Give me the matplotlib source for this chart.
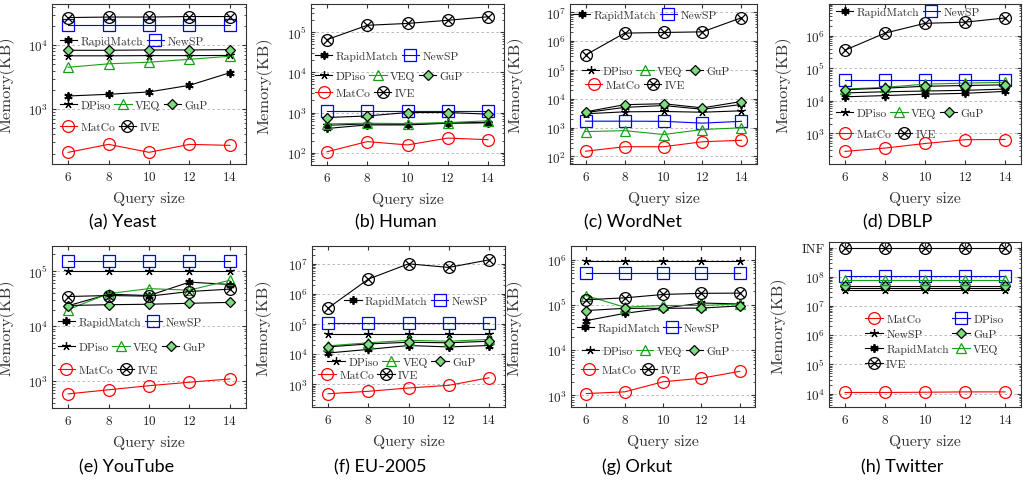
import numpy as np
import matplotlib
matplotlib.use('Agg')
import matplotlib.pyplot as plt
from matplotlib.path import Path
from matplotlib.legend import Legend
from matplotlib.ticker import LogLocator, NullFormatter, FixedLocator, FixedFormatter

plt.rcParams['font.family'] = 'cmr10'
plt.rcParams['mathtext.fontset'] = 'cm'
plt.rcParams['axes.formatter.use_mathtext'] = True

# ---------------------------------------------------------------- data
QUERY_SIZES = [6, 8, 10, 12, 14]
INF = 1e9  # value drawn at the "INF" tick of the Twitter panel

yeast = {
    'RapidMatch': [1600, 1700, 1850, 2350, 3700],
    'NewSP': [21000, 21000, 21000, 21000, 21000],
    'DPiso': [6800, 6800, 6850, 6850, 6900],
    'VEQ': [4500, 5100, 5400, 6000, 6700],
    'GuP': [8300, 8300, 8400, 8400, 8500],
    'MatCo': [210, 280, 210, 280, 270],
    'IVE': [27000, 27500, 27500, 28000, 28000],
}
human = {
    'RapidMatch': [400, 490, 490, 540, 560],
    'NewSP': [1100, 1100, 1100, 1100, 1100],
    'DPiso': [480, 520, 510, 550, 560],
    'VEQ': [520, 540, 530, 560, 620],
    'GuP': [750, 820, 1000, 1000, 910],
    'MatCo': [105, 188, 155, 230, 210],
    'IVE': [66000, 150000, 167000, 200000, 245000],
}
wordnet = {
    'RapidMatch': [3300, 5000, 5800, 4300, 6300],
    'NewSP': [1660, 1660, 1640, 1420, 1640],
    'DPiso': [3000, 3500, 3600, 3400, 3800],
    'VEQ': [720, 780, 570, 850, 980],
    'GuP': [3500, 6200, 6700, 4800, 8000],
    'MatCo': [150, 215, 215, 320, 360],
    'IVE': [3.3e5, 1.9e6, 2.0e6, 2.1e6, 6.5e6],
}
dblp = {
    'RapidMatch': [13300, 14500, 16000, 17000, 19500],
    'NewSP': [43000, 43000, 43000, 43000, 43000],
    'DPiso': [17500, 19000, 20000, 21000, 23000],
    'VEQ': [23000, 26000, 32500, 35000, 37000],
    'GuP': [22000, 24500, 28000, 29500, 31000],
    'MatCo': [280, 355, 490, 640, 650],
    'IVE': [3.6e5, 1.2e6, 2.4e6, 2.6e6, 3.5e6],
}
youtube = {
    'RapidMatch': [23500, 38000, 36000, 63000, 57000],
    'NewSP': [155000, 155000, 155000, 155000, 155000],
    'DPiso': [100000, 100000, 100000, 100000, 100000],
    'VEQ': [20000, 39000, 48000, 45000, 68000],
    'GuP': [23700, 24500, 25000, 26000, 27000],
    'MatCo': [590, 700, 830, 960, 1100],
    'IVE': [34500, 36000, 35000, 42500, 47000],
}
eu2005 = {
    'RapidMatch': [11000, 14500, 19500, 17500, 19500],
    'NewSP': [108000, 108000, 108000, 108000, 108000],
    'DPiso': [47000, 47000, 47000, 47000, 47000],
    'VEQ': [19000, 24000, 29000, 27000, 31000],
    'GuP': [17500, 22000, 25000, 24000, 27000],
    'MatCo': [490, 590, 760, 930, 1660],
    'IVE': [3.4e5, 3.1e6, 1.0e7, 7.6e6, 1.35e7],
}
orkut = {
    'RapidMatch': [45000, 65000, 84000, 110000, 105000],
    'NewSP': [510000, 510000, 510000, 510000, 510000],
    'DPiso': [950000, 950000, 950000, 950000, 950000],
    'VEQ': [160000, 89000, 97000, 97000, 105000],
    'GuP': [75000, 84000, 84000, 85000, 95000],
    'MatCo': [1100, 1200, 2000, 2400, 3400],
    'IVE': [130000, 143000, 170000, 180000, 182000],
}
twitter = {
    'MatCo': [11000, 11000, 11200, 11500, 11500],
    'NewSP': [3.6e7, 3.6e7, 3.6e7, 3.6e7, 3.6e7],
    'RapidMatch': [4.0e7, 4.0e7, 4.0e7, 4.0e7, 4.0e7],
    'IVE': [INF, INF, INF, INF, INF],
    'DPiso': [1.05e8, 1.05e8, 1.05e8, 1.05e8, 1.05e8],
    'GuP': [4.8e7, 4.8e7, 4.8e7, 4.8e7, 4.8e7],
    'VEQ': [8.0e7, 8.0e7, 8.0e7, 8.0e7, 8.0e7],
}

# ---------------------------------------------------------------- styles
c = 0.7071
otimes = Path.make_compound_path(
    Path.unit_circle(),
    Path([(-c, -c), (c, c), (-c, c), (c, -c)],
         [Path.MOVETO, Path.LINETO, Path.MOVETO, Path.LINETO]))

GREEN = '#17a017'
STYLES = {
    'RapidMatch': dict(color='black', marker=(6, 2, 0), ms=6, mew=1.3, mec='black'),
    'NewSP': dict(color='#0000ff', marker='s', ms=8, mfc='none', mec='#0000ff'),
    'DPiso': dict(color='black', marker=(5, 2, 0), ms=6, mec='black'),
    'VEQ': dict(color=GREEN, marker='^', ms=6.5, mfc='none', mec=GREEN),
    'GuP': dict(color='black', marker='D', ms=5, mfc='#7ddc7d', mec='black'),
    'MatCo': dict(color='#ff0000', marker='o', ms=8.5, mfc='none', mec='#ff0000'),
    'IVE': dict(color='black', marker=otimes, ms=8.5, mfc='none', mec='black'),
}
# Twitter panel swaps the DPiso / NewSP marks
TWITTER_STYLES = dict(STYLES, DPiso=STYLES['NewSP'], NewSP=STYLES['DPiso'])

ROWS = [['RapidMatch', 'NewSP'], ['DPiso', 'VEQ', 'GuP'], ['MatCo', 'IVE']]

W, H = 1023, 481
fig = plt.figure(figsize=(W / 100, H / 100), dpi=100)

# (data, caption, axes px (l, t, r, b), ylim, legend row anchors, ylabel offset px, caption centre px)
panels = [
    (yeast, '(a) Yeast', (52, 5, 246, 165), (138, 4.4e4),
     [(0.04, 0.77), (0.04, 0.37), (0.04, 0.23)], 38, (123, 222)),
    (human, '(b) Human', (311, 5, 504, 166), (49, 5.1e5),
     [(0.02, 0.675), (0.02, 0.555), (0.02, 0.45)], 39, (396, 222)),
    (wordnet, '(c) WordNet', (570, 5, 757, 165), (54, 1.95e7),
     [(0.016, 0.933), (0.064, 0.583), (0.08, 0.494)], 47, (633, 222)),
    (dblp, '(d) DBLP', (829, 5, 1021, 165), (115, 9.4e6),
     [(0.036, 0.952), (0.036, 0.32), (0.036, 0.19)], 38, (898, 222)),
    (youtube, '(e) YouTube', (52, 247, 246, 409), (327, 2.85e5),
     [(0.03, 0.53), (0.03, 0.375), (0.03, 0.235)], 38, (127, 467)),
    (eu2005, '(f) EU-2005', (312, 247, 505, 408), (178, 3.9e7),
     [(0.167, 0.66), (0.08, 0.28), (0.033, 0.196)], 41, (380, 467)),
    (orkut, '(g) Orkut', (571, 247, 755, 408), (555, 2e6),
     [(0.03, 0.49), (0.058, 0.35), (0.053, 0.23)], 49, (637, 467)),
    (twitter, '(h) Twitter', (829, 243, 1021, 408), (3500, 1.55e9),
     None, 43, (902, 467)),
]

for data, caption, (l, t, r, b), ylim, legpos, ylab_off, (cx, cy) in panels:
    ax = fig.add_axes([l / W, 1 - b / H, (r - l) / W, (b - t) / H])
    styles = TWITTER_STYLES if legpos is None else STYLES
    lines = {}
    for name, vals in data.items():
        st = dict(styles[name])
        mew = st.pop('mew', 0.9)
        ln, = ax.plot(QUERY_SIZES, vals, lw=0.8, mew=mew, **st)
        lines[name] = ln

    ax.set_yscale('log')
    ax.set_ylim(*ylim)
    ax.set_xlim(5.2, 14.8)
    ax.set_xticks(QUERY_SIZES)
    ax.yaxis.set_minor_locator(LogLocator(base=10, subs=np.arange(2, 10)))
    ax.yaxis.set_minor_formatter(NullFormatter())
    if legpos is None:
        ticks = [1e4, 1e5, 1e6, 1e7, 1e8, INF]
        ax.yaxis.set_major_locator(FixedLocator(ticks))
        ax.yaxis.set_major_formatter(FixedFormatter(
            [r'$10^{4}$', r'$10^{5}$', r'$10^{6}$', r'$10^{7}$', r'$10^{8}$', 'INF']))

    ax.grid(axis='y', which='major', ls=(0, (3, 3)), color='#b0b0b0', lw=0.6)
    ax.set_axisbelow(True)
    ax.tick_params(which='both', direction='in', top=True, right=True,
                   labelsize=9.5, color='#333333', labelcolor='#222222')
    ax.tick_params(axis='x', which='major', pad=4, length=3)
    ax.tick_params(axis='y', which='major', pad=3, length=3)
    ax.tick_params(axis='y', which='minor', length=1.8)
    for sp in ax.spines.values():
        sp.set_linewidth(0.8)
        sp.set_color('#333333')

    ax.set_xlabel('Query size', fontsize=11.3, color='#333333')
    ax.set_ylabel('Memory(KB)', fontsize=11.8, color='#333333')
    ax.xaxis.set_label_coords(0.5, -27 / (b - t))
    ax.yaxis.set_label_coords(-ylab_off / (r - l), 0.5)

    leg_kw = dict(frameon=False, borderpad=0, handlelength=1.5, handletextpad=0.3,
                  columnspacing=0.3, fontsize=8.3, borderaxespad=0)
    if legpos is None:
        names = list(data.keys())
        legs = [Legend(ax, [lines[n] for n in names], names, loc='upper left',
                       bbox_to_anchor=(0.19, 0.565), ncol=2, labelspacing=0.42,
                       **leg_kw)]
    else:
        legs = [Legend(ax, [lines[n] for n in row], row, loc='center left',
                       bbox_to_anchor=pos, ncol=len(row), **leg_kw)
                for row, pos in zip(ROWS, legpos)]
    for leg in legs:
        for txt in leg.get_texts():
            txt.set_color('#333333')
        ax.add_artist(leg)

    fig.text(cx / W, 1 - cy / H, caption, ha='center', va='center',
             fontsize=13, family='Lato')

plt.savefig('out.png', dpi=100)
plt.close()
